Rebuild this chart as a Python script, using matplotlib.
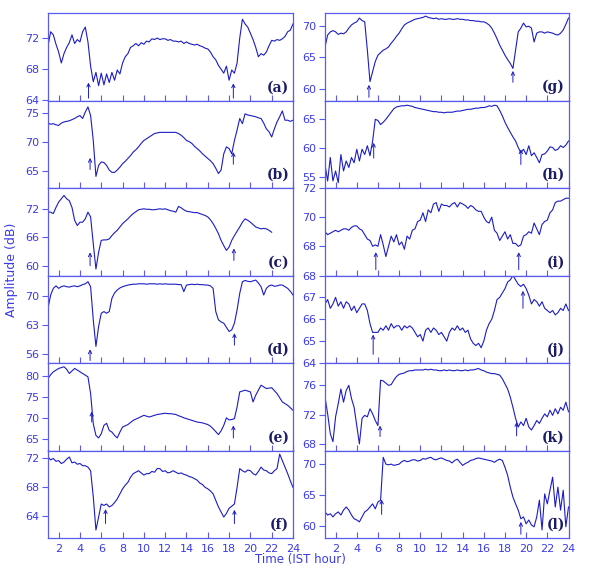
import numpy as np
import matplotlib
matplotlib.use('Agg')
import matplotlib.pyplot as plt

###########################
# Data (0.25 h steps from 1 to 24 IST)
###########################

hours = np.arange(1, 24.01, 0.25)

amp_a = [71.0, 72.8, 72.4, 71.2, 70.2, 68.8, 70.0, 70.8, 71.4, 72.4, 71.3, 71.8,
         71.5, 72.8, 73.4, 71.5, 68.4, 66.4, 67.6, 65.9, 67.5, 66.0, 67.4, 66.3,
         67.6, 66.6, 67.9, 67.4, 68.8, 69.6, 70.0, 70.8, 71.0, 71.3, 71.0, 71.4,
         71.2, 71.6, 71.5, 71.9, 71.8, 72.0, 71.8, 71.9, 71.9, 71.7, 71.8, 71.6,
         71.6, 71.5, 71.6, 71.3, 71.5, 71.3, 71.2, 71.1, 71.2, 71.0, 70.9, 70.7,
         70.6, 70.2, 69.6, 69.2, 68.5, 68.0, 67.5, 68.4, 66.6, 67.9, 67.5, 68.8,
         72.0, 74.4, 73.8, 73.4, 72.6, 71.8, 70.8, 69.6, 70.0, 69.8, 70.2, 71.0,
         71.7, 71.6, 71.8, 71.7, 71.9, 72.2, 72.8, 73.0, 73.8]
amp_b = [73.2, 73.0, 73.1, 72.9, 72.8, 73.2, 73.4, 73.5, 73.6, 73.8, 74.0, 74.3,
         74.5, 74.0, 75.1, 76.0, 74.5, 70.2, 64.0, 65.9, 66.5, 66.4, 65.9, 65.1,
         64.7, 64.7, 65.1, 65.6, 66.2, 66.6, 67.1, 67.6, 68.2, 68.6, 69.1, 69.7,
         70.2, 70.5, 70.8, 71.1, 71.4, 71.5, 71.6, 71.6, 71.6, 71.6, 71.6, 71.6,
         71.6, 71.4, 71.1, 70.7, 70.2, 70.0, 69.7, 69.2, 68.8, 68.4, 67.9, 67.5,
         67.1, 66.7, 66.2, 65.4, 64.5, 65.1, 67.9, 69.1, 68.8, 67.9, 70.2, 72.0,
         74.0, 73.1, 74.8, 74.6, 74.5, 74.4, 74.3, 74.1, 74.0, 73.2, 72.2, 71.7,
         70.8, 72.2, 73.4, 74.3, 75.3, 73.7, 73.7, 73.5, 73.7]
amp_c = [71.3, 71.3, 71.0, 72.3, 73.4, 74.1, 74.8, 74.1, 73.7, 72.3, 69.6, 68.5,
         69.2, 69.2, 69.9, 71.3, 70.3, 64.7, 59.4, 62.9, 65.4, 65.5, 65.5, 65.7,
         66.4, 67.0, 67.5, 68.2, 68.9, 69.4, 69.9, 70.5, 71.0, 71.4, 71.8, 71.9,
         72.0, 71.9, 71.9, 71.8, 71.8, 71.9, 72.0, 71.9, 72.0, 71.8, 71.6, 71.5,
         71.3, 72.5, 72.2, 71.8, 71.5, 71.4, 71.3, 71.2, 71.2, 71.0, 70.8, 70.6,
         70.3, 69.7, 68.9, 67.9, 66.8, 65.4, 64.3, 63.3, 64.0, 65.4, 66.4, 67.3,
         68.2, 69.2, 69.9, 69.6, 69.2, 68.7, 68.2, 68.0, 67.8, 67.9, 67.8, 67.5,
         67.1]
amp_d = [67.1, 70.3, 71.9, 72.5, 71.9, 72.3, 72.5, 72.3, 72.2, 72.4, 72.5, 72.3,
         72.5, 72.8, 73.0, 73.5, 72.3, 64.3, 57.9, 62.7, 65.9, 66.3, 65.9, 66.3,
         69.5, 70.8, 71.5, 72.0, 72.3, 72.5, 72.7, 72.8, 72.9, 72.9, 73.0, 73.0,
         73.0, 72.9, 73.0, 73.0, 73.0, 72.9, 73.0, 72.9, 73.0, 72.9, 72.9, 72.9,
         72.9, 72.8, 72.8, 71.1, 72.7, 72.8, 72.9, 72.8, 72.9, 72.8, 72.8, 72.7,
         72.7, 72.5, 71.9, 66.3, 64.3, 63.8, 63.5, 62.5, 61.5, 61.9, 63.5, 66.7,
         70.7, 73.5, 73.8, 73.6, 73.5, 73.7, 73.9, 73.2, 72.3, 70.3, 71.9, 72.5,
         72.7, 72.4, 72.5, 72.7, 72.7, 72.3, 71.9, 71.2, 70.3]
amp_e = [79.4, 80.3, 81.0, 81.4, 81.8, 82.0, 82.2, 81.6, 80.6, 81.2, 81.8, 81.4,
         81.0, 80.6, 80.2, 79.8, 75.8, 68.6, 65.8, 65.2, 66.2, 68.2, 68.7, 67.0,
         66.6, 65.8, 65.2, 66.6, 67.8, 68.1, 68.4, 68.9, 69.4, 69.7, 70.0, 70.3,
         70.6, 70.4, 70.2, 70.4, 70.6, 70.8, 70.9, 71.0, 71.1, 71.0, 71.0, 70.9,
         70.8, 70.5, 70.3, 70.0, 69.8, 69.6, 69.4, 69.2, 69.0, 68.9, 68.8, 68.6,
         68.4, 68.0, 67.4, 66.7, 66.0, 66.9, 68.2, 70.0, 69.5, 69.6, 69.8, 72.6,
         76.2, 76.4, 76.6, 76.4, 76.2, 73.8, 75.4, 76.6, 77.8, 77.4, 77.0, 77.1,
         77.2, 76.5, 75.8, 74.8, 73.8, 73.4, 73.0, 72.4, 71.8]
amp_f = [72.2, 71.8, 72.0, 71.6, 71.7, 71.3, 71.5, 71.9, 72.2, 71.4, 71.5, 71.2,
         71.3, 71.0, 71.0, 70.8, 70.3, 66.7, 62.1, 63.9, 65.7, 65.5, 65.7, 65.3,
         65.5, 65.9, 66.4, 67.1, 67.8, 68.3, 68.7, 69.4, 69.9, 70.1, 70.3, 70.0,
         69.7, 69.9, 69.9, 70.2, 70.1, 70.6, 70.6, 70.2, 70.3, 70.0, 70.1, 70.3,
         70.1, 69.9, 70.0, 69.8, 69.7, 69.5, 69.4, 69.2, 69.0, 68.6, 68.4, 68.0,
         67.8, 67.5, 67.1, 66.2, 65.3, 64.6, 63.9, 64.4, 65.1, 65.4, 65.7, 68.0,
         70.6, 70.3, 70.1, 70.4, 70.3, 69.9, 69.7, 70.2, 70.8, 70.4, 70.3, 70.0,
         69.9, 70.3, 70.6, 72.6, 71.7, 70.8, 69.9, 68.9, 68.0]
amp_g = [66.6, 68.5, 69.0, 69.2, 69.0, 68.6, 68.8, 68.7, 69.0, 69.6, 70.1, 70.4,
         70.6, 71.2, 70.8, 70.6, 66.1, 61.1, 62.7, 64.3, 65.3, 65.7, 66.1, 66.3,
         66.6, 67.2, 67.7, 68.3, 68.8, 69.5, 70.1, 70.4, 70.6, 70.8, 71.0, 71.1,
         71.2, 71.3, 71.5, 71.3, 71.2, 71.1, 71.2, 71.0, 71.1, 71.0, 71.0, 71.1,
         71.0, 71.0, 71.1, 71.0, 71.0, 70.9, 70.9, 70.8, 70.8, 70.7, 70.7, 70.6,
         70.6, 70.4, 70.1, 69.6, 68.8, 67.9, 66.9, 66.1, 65.3, 64.6, 64.0, 63.2,
         66.1, 69.0, 69.6, 70.4, 69.8, 69.9, 69.6, 67.4, 68.8, 69.0, 69.0, 68.8,
         69.0, 68.9, 68.8, 68.6, 68.5, 68.8, 69.3, 70.2, 71.2]
amp_h = [57.2, 54.4, 58.4, 54.4, 56.1, 54.1, 58.9, 56.1, 57.8, 56.7, 58.4, 57.5,
         59.8, 57.8, 59.8, 58.9, 60.4, 58.7, 61.2, 64.9, 64.7, 64.0, 64.4, 64.9,
         65.5, 66.1, 66.7, 67.0, 67.1, 67.2, 67.2, 67.3, 67.2, 67.1, 66.9, 66.8,
         66.7, 66.6, 66.5, 66.4, 66.3, 66.2, 66.2, 66.1, 66.1, 66.0, 66.1, 66.1,
         66.1, 66.2, 66.3, 66.3, 66.4, 66.5, 66.6, 66.6, 66.7, 66.8, 66.8, 66.9,
         66.9, 67.0, 67.2, 67.1, 67.3, 67.2, 66.4, 65.5, 64.4, 63.5, 62.7, 61.9,
         61.2, 60.1, 59.2, 59.8, 58.9, 60.4, 58.7, 59.2, 58.4, 57.5, 58.9, 59.0,
         59.5, 60.2, 60.1, 59.6, 59.8, 60.4, 60.1, 60.5, 61.2]
amp_i = [69.0, 68.8, 68.9, 69.0, 69.1, 69.0, 69.1, 69.2, 69.2, 69.1, 69.3, 69.4,
         69.4, 69.2, 69.1, 68.8, 68.5, 68.4, 68.0, 68.1, 68.0, 68.8, 68.1, 67.3,
         68.0, 68.7, 68.3, 68.8, 68.1, 68.3, 67.8, 68.7, 68.5, 69.1, 69.2, 69.7,
         69.8, 70.3, 69.7, 70.5, 70.3, 70.9, 71.0, 70.4, 70.9, 70.8, 70.8, 70.7,
         70.9, 71.0, 70.7, 71.0, 70.9, 70.8, 70.6, 70.8, 70.7, 70.5, 70.4, 70.4,
         70.0, 69.7, 69.6, 70.0, 69.1, 68.9, 68.4, 68.7, 69.0, 68.5, 68.8, 68.2,
         68.2, 68.0, 68.1, 68.7, 68.8, 69.0, 68.9, 69.6, 69.2, 68.8, 69.5, 69.7,
         69.8, 70.3, 70.5, 71.0, 71.1, 71.1, 71.2, 71.3, 71.3]
amp_j = [66.7, 66.9, 66.5, 66.7, 67.0, 66.6, 66.8, 66.5, 66.8, 66.7, 66.4, 66.6,
         66.3, 66.5, 66.7, 66.7, 66.4, 65.8, 65.4, 65.4, 65.4, 65.6, 65.5, 65.7,
         65.5, 65.8, 65.6, 65.7, 65.7, 65.5, 65.7, 65.6, 65.7, 65.6, 65.4, 65.2,
         65.3, 65.0, 65.5, 65.6, 65.4, 65.6, 65.5, 65.3, 65.4, 65.2, 65.0, 65.4,
         65.6, 65.5, 65.7, 65.5, 65.6, 65.4, 65.5, 65.1, 64.9, 64.8, 64.9, 64.7,
         65.0, 65.5, 65.8, 66.0, 66.4, 66.9, 67.0, 67.2, 67.4, 67.7, 67.8, 68.0,
         67.8, 67.6, 67.5, 67.6, 67.4, 67.1, 66.7, 66.9, 66.8, 66.6, 66.8, 66.5,
         66.4, 66.3, 66.4, 66.2, 66.3, 66.5, 66.4, 66.7, 66.4]
amp_k = [74.4, 72.1, 69.4, 68.3, 71.7, 73.5, 75.5, 73.7, 75.3, 76.0, 74.2, 73.0,
         70.5, 68.0, 71.5, 71.9, 71.7, 72.8, 72.1, 71.2, 70.5, 76.7, 76.6, 76.3,
         76.0, 76.1, 76.7, 77.2, 77.5, 77.6, 77.7, 77.9, 78.0, 78.0, 78.1, 78.1,
         78.1, 78.1, 78.2, 78.1, 78.2, 78.1, 78.1, 78.0, 78.0, 78.1, 78.0, 78.1,
         78.0, 78.0, 78.1, 78.0, 78.0, 78.1, 78.0, 78.1, 78.1, 78.2, 78.3, 78.1,
         78.0, 77.8, 77.7, 77.6, 77.6, 77.5, 77.4, 76.9, 76.2, 75.5, 74.4, 73.0,
         71.5, 70.3, 71.0, 70.5, 71.5, 70.3, 69.9, 70.5, 71.2, 70.8, 71.5, 72.1,
         71.7, 72.6, 71.9, 72.8, 72.1, 73.0, 72.6, 73.7, 72.4]
amp_l = [62.2, 61.7, 61.9, 61.4, 61.9, 62.2, 61.7, 62.5, 63.0, 62.5, 61.7, 61.1,
         60.9, 60.6, 61.4, 62.2, 62.5, 63.0, 63.5, 62.7, 63.8, 64.1, 71.0, 69.9,
         69.8, 69.9, 69.7, 69.8, 69.9, 70.3, 70.5, 70.3, 70.4, 70.6, 70.6, 70.4,
         70.5, 70.8, 70.7, 70.9, 71.0, 70.7, 70.6, 70.8, 70.9, 70.7, 70.5, 70.4,
         70.1, 70.5, 70.7, 70.2, 69.7, 70.0, 70.2, 70.5, 70.6, 70.8, 70.9, 70.8,
         70.7, 70.6, 70.5, 70.4, 70.2, 70.5, 70.7, 70.5, 69.4, 68.1, 66.2, 64.6,
         63.5, 62.5, 61.1, 61.4, 60.3, 60.9, 60.1, 59.8, 61.4, 64.1, 59.3, 65.1,
         63.5, 65.7, 67.8, 63.0, 66.2, 62.5, 65.7, 59.8, 63.0]

# sunrise / sunset markers: (hour, arrow base, arrow tip)
arrows = {
    'a': [(4.8, 64.3, 66.3), (18.4, 64.3, 66.2)],
    'b': [(4.95, 65.2, 67.2), (18.4, 66.1, 68.2)],
    'c': [(4.95, 60.1, 62.9), (18.45, 61.2, 63.7)],
    'd': [(4.95, 54.5, 57.2), (18.5, 58.2, 61.1)],
    'e': [(5.1, 69.0, 71.5), (18.4, 65.2, 68.2)],
    'f': [(6.4, 63.0, 65.0), (18.5, 63.0, 64.9)],
    'g': [(5.15, 58.6, 60.6), (18.75, 61.0, 62.8)],
    'h': [(5.6, 58.3, 60.9), (19.5, 57.2, 59.8)],
    'i': [(5.8, 66.4, 67.6), (19.3, 66.4, 67.6)],
    'j': [(5.55, 64.4, 65.3), (19.7, 66.5, 67.3)],
    'k': [(6.2, 69.0, 70.5), (19.1, 69.1, 71.0)],
    'l': [(6.35, 61.8, 64.2), (19.5, 58.6, 60.6)],
}

panels = [
    ('a', amp_a, (64, 75.2), [64, 68, 72]),
    ('b', amp_b, (62, 77.1), [65, 70, 75]),
    ('c', amp_c, (58.05, 76.35), [60, 66, 72]),
    ('d', amp_d, (53.9, 75), [56, 63, 70]),
    ('e', amp_e, (62.2, 83.1), [65, 70, 75, 80]),
    ('f', amp_f, (61.0, 73.1), [64, 68, 72]),
    ('g', amp_g, (58.1, 72.0), [60, 65, 70]),
    ('h', amp_h, (53.2, 68.1), [55, 60, 65]),
    ('i', amp_i, (66, 72), [68, 70, 72]),
    ('j', amp_j, (64, 68), [64, 65, 66, 67, 68]),
    ('k', amp_k, (67.1, 79.05), [68, 72, 76]),
    ('l', amp_l, (58.0, 72.1), [60, 65, 70]),
]

###########################
# Plot
###########################

line_col = '#1c1cc4'
axis_col = '#5a5af0'
text_col = '#3b3be6'
lab_col = '#1b1b66'

fig = plt.figure(figsize=(5.92, 5.76), dpi=100)

W, H = 592, 576
col_left = [48, 325]
col_width = [245, 243.5]
top, ph = 13, 87.5

for n, (name, vals, ylim, yt) in enumerate(panels):
    col, row = divmod(n, 6)
    y0 = top + (row + 1) * ph
    ax = fig.add_axes([col_left[col] / W, 1 - y0 / H, col_width[col] / W, ph / H])
    ax.plot(hours[:len(vals)], vals, color=line_col, lw=0.8)
    for h, base, tip in arrows[name]:
        ax.annotate('', xy=(h, tip), xytext=(h, base),
                    arrowprops=dict(arrowstyle='->', color=line_col, lw=0.7,
                                    mutation_scale=6, shrinkA=0, shrinkB=0))
    ax.set_xlim(1, 24)
    ax.set_ylim(*ylim)
    ax.set_yticks(yt)
    ax.set_xticks(range(2, 25, 2))
    for s in ax.spines.values():
        s.set_color(axis_col)
        s.set_linewidth(0.9)
    ax.tick_params(axis='x', direction='in', length=4, color=axis_col,
                   labelsize=8, labelcolor=text_col, pad=4)
    ax.tick_params(axis='y', direction='out', length=4, color=axis_col,
                   labelsize=8, labelcolor=text_col, pad=2)
    if row < 5:
        ax.tick_params(axis='x', labelbottom=False)
    ax.text(0.985, 0.07, '(%s)' % name, transform=ax.transAxes, ha='right', va='bottom',
            fontsize=10, fontweight='bold', family='DejaVu Serif', color=lab_col)

fig.text(12 / W, 1 - 270 / H, 'Amplitude (dB)', rotation=90, ha='center', va='center',
         fontsize=9, color=text_col)
fig.text(300 / W, 1 - 559 / H, 'Time (IST hour)', ha='center', va='center',
         fontsize=8.5, color=text_col)

fig.savefig('out.png', dpi=100)
